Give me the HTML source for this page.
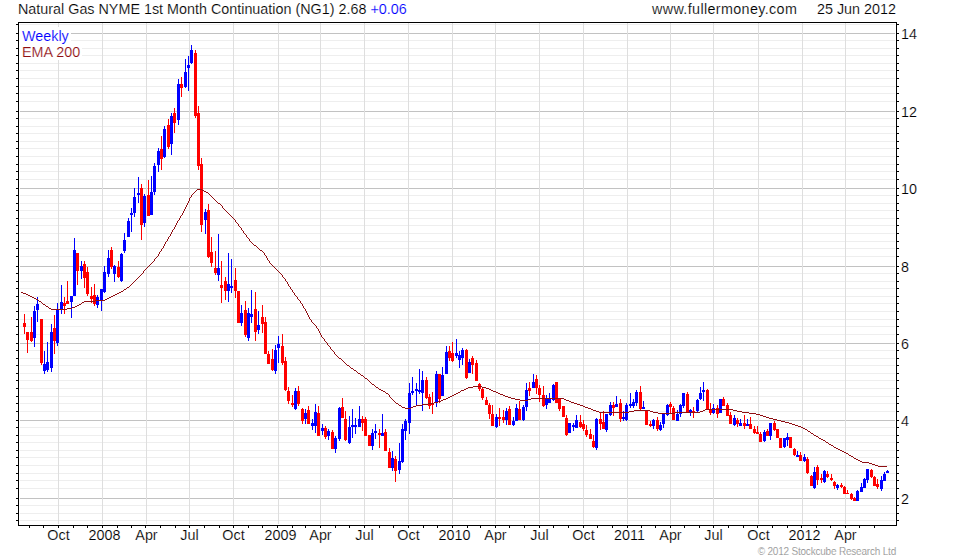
<!DOCTYPE html>
<html><head><meta charset="utf-8"><title>Natural Gas NYME 1st Month Continuation (NG1)</title>
<style>
html,body{margin:0;padding:0;background:#fff}
body{width:980px;height:560px;position:relative;overflow:hidden;font-family:"Liberation Sans",Arial,sans-serif;font-size:14.35px;color:#000}
div{position:absolute;white-space:nowrap;line-height:16px;-webkit-text-stroke:0.16px #fff}
.yl{left:901px}
.xl{width:61px;text-align:center;top:527px}
</style></head><body>
<svg width="980" height="560" viewBox="0 0 980 560" style="position:absolute;left:0;top:0" shape-rendering="crispEdges">
<rect x="20" y="24" width="875" height="1" fill="#eeeeee"/>
<rect x="16" y="24" width="2" height="1" fill="#000"/>
<rect x="897" y="24" width="2" height="1" fill="#000"/>
<rect x="20" y="33" width="875" height="1" fill="#c2c2c2"/>
<rect x="16" y="33" width="2" height="1" fill="#000"/>
<rect x="897" y="33" width="2" height="1" fill="#000"/>
<rect x="20" y="40" width="875" height="1" fill="#eeeeee"/>
<rect x="16" y="40" width="2" height="1" fill="#000"/>
<rect x="897" y="40" width="2" height="1" fill="#000"/>
<rect x="20" y="48" width="875" height="1" fill="#eeeeee"/>
<rect x="16" y="48" width="2" height="1" fill="#000"/>
<rect x="897" y="48" width="2" height="1" fill="#000"/>
<rect x="20" y="55" width="875" height="1" fill="#eeeeee"/>
<rect x="16" y="55" width="2" height="1" fill="#000"/>
<rect x="897" y="55" width="2" height="1" fill="#000"/>
<rect x="20" y="63" width="875" height="1" fill="#eeeeee"/>
<rect x="16" y="63" width="2" height="1" fill="#000"/>
<rect x="897" y="63" width="2" height="1" fill="#000"/>
<rect x="20" y="70" width="875" height="1" fill="#eeeeee"/>
<rect x="16" y="70" width="2" height="1" fill="#000"/>
<rect x="897" y="70" width="2" height="1" fill="#000"/>
<rect x="20" y="78" width="875" height="1" fill="#eeeeee"/>
<rect x="16" y="78" width="2" height="1" fill="#000"/>
<rect x="897" y="78" width="2" height="1" fill="#000"/>
<rect x="20" y="86" width="875" height="1" fill="#eeeeee"/>
<rect x="16" y="86" width="2" height="1" fill="#000"/>
<rect x="897" y="86" width="2" height="1" fill="#000"/>
<rect x="20" y="93" width="875" height="1" fill="#eeeeee"/>
<rect x="16" y="93" width="2" height="1" fill="#000"/>
<rect x="897" y="93" width="2" height="1" fill="#000"/>
<rect x="20" y="101" width="875" height="1" fill="#eeeeee"/>
<rect x="16" y="101" width="2" height="1" fill="#000"/>
<rect x="897" y="101" width="2" height="1" fill="#000"/>
<rect x="20" y="111" width="875" height="1" fill="#c2c2c2"/>
<rect x="16" y="111" width="2" height="1" fill="#000"/>
<rect x="897" y="111" width="2" height="1" fill="#000"/>
<rect x="20" y="118" width="875" height="1" fill="#eeeeee"/>
<rect x="16" y="118" width="2" height="1" fill="#000"/>
<rect x="897" y="118" width="2" height="1" fill="#000"/>
<rect x="20" y="126" width="875" height="1" fill="#eeeeee"/>
<rect x="16" y="126" width="2" height="1" fill="#000"/>
<rect x="897" y="126" width="2" height="1" fill="#000"/>
<rect x="20" y="133" width="875" height="1" fill="#eeeeee"/>
<rect x="16" y="133" width="2" height="1" fill="#000"/>
<rect x="897" y="133" width="2" height="1" fill="#000"/>
<rect x="20" y="141" width="875" height="1" fill="#eeeeee"/>
<rect x="16" y="141" width="2" height="1" fill="#000"/>
<rect x="897" y="141" width="2" height="1" fill="#000"/>
<rect x="20" y="148" width="875" height="1" fill="#eeeeee"/>
<rect x="16" y="148" width="2" height="1" fill="#000"/>
<rect x="897" y="148" width="2" height="1" fill="#000"/>
<rect x="20" y="156" width="875" height="1" fill="#eeeeee"/>
<rect x="16" y="156" width="2" height="1" fill="#000"/>
<rect x="897" y="156" width="2" height="1" fill="#000"/>
<rect x="20" y="164" width="875" height="1" fill="#eeeeee"/>
<rect x="16" y="164" width="2" height="1" fill="#000"/>
<rect x="897" y="164" width="2" height="1" fill="#000"/>
<rect x="20" y="171" width="875" height="1" fill="#eeeeee"/>
<rect x="16" y="171" width="2" height="1" fill="#000"/>
<rect x="897" y="171" width="2" height="1" fill="#000"/>
<rect x="20" y="179" width="875" height="1" fill="#eeeeee"/>
<rect x="16" y="179" width="2" height="1" fill="#000"/>
<rect x="897" y="179" width="2" height="1" fill="#000"/>
<rect x="20" y="188" width="875" height="1" fill="#c2c2c2"/>
<rect x="16" y="188" width="2" height="1" fill="#000"/>
<rect x="897" y="188" width="2" height="1" fill="#000"/>
<rect x="20" y="195" width="875" height="1" fill="#eeeeee"/>
<rect x="16" y="195" width="2" height="1" fill="#000"/>
<rect x="897" y="195" width="2" height="1" fill="#000"/>
<rect x="20" y="203" width="875" height="1" fill="#eeeeee"/>
<rect x="16" y="203" width="2" height="1" fill="#000"/>
<rect x="897" y="203" width="2" height="1" fill="#000"/>
<rect x="20" y="210" width="875" height="1" fill="#eeeeee"/>
<rect x="16" y="210" width="2" height="1" fill="#000"/>
<rect x="897" y="210" width="2" height="1" fill="#000"/>
<rect x="20" y="218" width="875" height="1" fill="#eeeeee"/>
<rect x="16" y="218" width="2" height="1" fill="#000"/>
<rect x="897" y="218" width="2" height="1" fill="#000"/>
<rect x="20" y="225" width="875" height="1" fill="#eeeeee"/>
<rect x="16" y="225" width="2" height="1" fill="#000"/>
<rect x="897" y="225" width="2" height="1" fill="#000"/>
<rect x="20" y="233" width="875" height="1" fill="#eeeeee"/>
<rect x="16" y="233" width="2" height="1" fill="#000"/>
<rect x="897" y="233" width="2" height="1" fill="#000"/>
<rect x="20" y="241" width="875" height="1" fill="#eeeeee"/>
<rect x="16" y="241" width="2" height="1" fill="#000"/>
<rect x="897" y="241" width="2" height="1" fill="#000"/>
<rect x="20" y="248" width="875" height="1" fill="#eeeeee"/>
<rect x="16" y="248" width="2" height="1" fill="#000"/>
<rect x="897" y="248" width="2" height="1" fill="#000"/>
<rect x="20" y="256" width="875" height="1" fill="#eeeeee"/>
<rect x="16" y="256" width="2" height="1" fill="#000"/>
<rect x="897" y="256" width="2" height="1" fill="#000"/>
<rect x="20" y="266" width="875" height="1" fill="#c2c2c2"/>
<rect x="16" y="266" width="2" height="1" fill="#000"/>
<rect x="897" y="266" width="2" height="1" fill="#000"/>
<rect x="20" y="273" width="875" height="1" fill="#eeeeee"/>
<rect x="16" y="273" width="2" height="1" fill="#000"/>
<rect x="897" y="273" width="2" height="1" fill="#000"/>
<rect x="20" y="281" width="875" height="1" fill="#eeeeee"/>
<rect x="16" y="281" width="2" height="1" fill="#000"/>
<rect x="897" y="281" width="2" height="1" fill="#000"/>
<rect x="20" y="288" width="875" height="1" fill="#eeeeee"/>
<rect x="16" y="288" width="2" height="1" fill="#000"/>
<rect x="897" y="288" width="2" height="1" fill="#000"/>
<rect x="20" y="296" width="875" height="1" fill="#eeeeee"/>
<rect x="16" y="296" width="2" height="1" fill="#000"/>
<rect x="897" y="296" width="2" height="1" fill="#000"/>
<rect x="20" y="303" width="875" height="1" fill="#eeeeee"/>
<rect x="16" y="303" width="2" height="1" fill="#000"/>
<rect x="897" y="303" width="2" height="1" fill="#000"/>
<rect x="20" y="311" width="875" height="1" fill="#eeeeee"/>
<rect x="16" y="311" width="2" height="1" fill="#000"/>
<rect x="897" y="311" width="2" height="1" fill="#000"/>
<rect x="20" y="319" width="875" height="1" fill="#eeeeee"/>
<rect x="16" y="319" width="2" height="1" fill="#000"/>
<rect x="897" y="319" width="2" height="1" fill="#000"/>
<rect x="20" y="326" width="875" height="1" fill="#eeeeee"/>
<rect x="16" y="326" width="2" height="1" fill="#000"/>
<rect x="897" y="326" width="2" height="1" fill="#000"/>
<rect x="20" y="334" width="875" height="1" fill="#eeeeee"/>
<rect x="16" y="334" width="2" height="1" fill="#000"/>
<rect x="897" y="334" width="2" height="1" fill="#000"/>
<rect x="20" y="343" width="875" height="1" fill="#c2c2c2"/>
<rect x="16" y="343" width="2" height="1" fill="#000"/>
<rect x="897" y="343" width="2" height="1" fill="#000"/>
<rect x="20" y="350" width="875" height="1" fill="#eeeeee"/>
<rect x="16" y="350" width="2" height="1" fill="#000"/>
<rect x="897" y="350" width="2" height="1" fill="#000"/>
<rect x="20" y="358" width="875" height="1" fill="#eeeeee"/>
<rect x="16" y="358" width="2" height="1" fill="#000"/>
<rect x="897" y="358" width="2" height="1" fill="#000"/>
<rect x="20" y="365" width="875" height="1" fill="#eeeeee"/>
<rect x="16" y="365" width="2" height="1" fill="#000"/>
<rect x="897" y="365" width="2" height="1" fill="#000"/>
<rect x="20" y="373" width="875" height="1" fill="#eeeeee"/>
<rect x="16" y="373" width="2" height="1" fill="#000"/>
<rect x="897" y="373" width="2" height="1" fill="#000"/>
<rect x="20" y="380" width="875" height="1" fill="#eeeeee"/>
<rect x="16" y="380" width="2" height="1" fill="#000"/>
<rect x="897" y="380" width="2" height="1" fill="#000"/>
<rect x="20" y="388" width="875" height="1" fill="#eeeeee"/>
<rect x="16" y="388" width="2" height="1" fill="#000"/>
<rect x="897" y="388" width="2" height="1" fill="#000"/>
<rect x="20" y="396" width="875" height="1" fill="#eeeeee"/>
<rect x="16" y="396" width="2" height="1" fill="#000"/>
<rect x="897" y="396" width="2" height="1" fill="#000"/>
<rect x="20" y="403" width="875" height="1" fill="#eeeeee"/>
<rect x="16" y="403" width="2" height="1" fill="#000"/>
<rect x="897" y="403" width="2" height="1" fill="#000"/>
<rect x="20" y="411" width="875" height="1" fill="#eeeeee"/>
<rect x="16" y="411" width="2" height="1" fill="#000"/>
<rect x="897" y="411" width="2" height="1" fill="#000"/>
<rect x="20" y="420" width="875" height="1" fill="#c2c2c2"/>
<rect x="16" y="420" width="2" height="1" fill="#000"/>
<rect x="897" y="420" width="2" height="1" fill="#000"/>
<rect x="20" y="427" width="875" height="1" fill="#eeeeee"/>
<rect x="16" y="427" width="2" height="1" fill="#000"/>
<rect x="897" y="427" width="2" height="1" fill="#000"/>
<rect x="20" y="435" width="875" height="1" fill="#eeeeee"/>
<rect x="16" y="435" width="2" height="1" fill="#000"/>
<rect x="897" y="435" width="2" height="1" fill="#000"/>
<rect x="20" y="442" width="875" height="1" fill="#eeeeee"/>
<rect x="16" y="442" width="2" height="1" fill="#000"/>
<rect x="897" y="442" width="2" height="1" fill="#000"/>
<rect x="20" y="450" width="875" height="1" fill="#eeeeee"/>
<rect x="16" y="450" width="2" height="1" fill="#000"/>
<rect x="897" y="450" width="2" height="1" fill="#000"/>
<rect x="20" y="457" width="875" height="1" fill="#eeeeee"/>
<rect x="16" y="457" width="2" height="1" fill="#000"/>
<rect x="897" y="457" width="2" height="1" fill="#000"/>
<rect x="20" y="465" width="875" height="1" fill="#eeeeee"/>
<rect x="16" y="465" width="2" height="1" fill="#000"/>
<rect x="897" y="465" width="2" height="1" fill="#000"/>
<rect x="20" y="473" width="875" height="1" fill="#eeeeee"/>
<rect x="16" y="473" width="2" height="1" fill="#000"/>
<rect x="897" y="473" width="2" height="1" fill="#000"/>
<rect x="20" y="480" width="875" height="1" fill="#eeeeee"/>
<rect x="16" y="480" width="2" height="1" fill="#000"/>
<rect x="897" y="480" width="2" height="1" fill="#000"/>
<rect x="20" y="488" width="875" height="1" fill="#eeeeee"/>
<rect x="16" y="488" width="2" height="1" fill="#000"/>
<rect x="897" y="488" width="2" height="1" fill="#000"/>
<rect x="20" y="498" width="875" height="1" fill="#c2c2c2"/>
<rect x="16" y="498" width="2" height="1" fill="#000"/>
<rect x="897" y="498" width="2" height="1" fill="#000"/>
<rect x="20" y="505" width="875" height="1" fill="#eeeeee"/>
<rect x="16" y="505" width="2" height="1" fill="#000"/>
<rect x="897" y="505" width="2" height="1" fill="#000"/>
<rect x="20" y="513" width="875" height="1" fill="#eeeeee"/>
<rect x="16" y="513" width="2" height="1" fill="#000"/>
<rect x="897" y="513" width="2" height="1" fill="#000"/>
<rect x="20" y="520" width="875" height="1" fill="#eeeeee"/>
<rect x="16" y="520" width="2" height="1" fill="#000"/>
<rect x="897" y="520" width="2" height="1" fill="#000"/>
<rect x="58" y="23" width="1" height="501" fill="#dedede"/>
<rect x="102" y="23" width="1" height="501" fill="#dedede"/>
<rect x="146" y="23" width="1" height="501" fill="#dedede"/>
<rect x="189" y="23" width="1" height="501" fill="#dedede"/>
<rect x="233" y="23" width="1" height="501" fill="#dedede"/>
<rect x="278" y="23" width="1" height="501" fill="#dedede"/>
<rect x="320" y="23" width="1" height="501" fill="#dedede"/>
<rect x="364" y="23" width="1" height="501" fill="#dedede"/>
<rect x="408" y="23" width="1" height="501" fill="#dedede"/>
<rect x="452" y="23" width="1" height="501" fill="#dedede"/>
<rect x="495" y="23" width="1" height="501" fill="#dedede"/>
<rect x="539" y="23" width="1" height="501" fill="#dedede"/>
<rect x="583" y="23" width="1" height="501" fill="#dedede"/>
<rect x="627" y="23" width="1" height="501" fill="#dedede"/>
<rect x="670" y="23" width="1" height="501" fill="#dedede"/>
<rect x="713" y="23" width="1" height="501" fill="#dedede"/>
<rect x="758" y="23" width="1" height="501" fill="#dedede"/>
<rect x="802" y="23" width="1" height="501" fill="#dedede"/>
<rect x="845" y="23" width="1" height="501" fill="#dedede"/>
<rect x="29" y="526" width="1" height="2" fill="#000"/>
<rect x="43" y="526" width="1" height="2" fill="#000"/>
<rect x="58" y="526" width="1" height="2" fill="#000"/>
<rect x="73" y="526" width="1" height="2" fill="#000"/>
<rect x="87" y="526" width="1" height="2" fill="#000"/>
<rect x="102" y="526" width="1" height="2" fill="#000"/>
<rect x="117" y="526" width="1" height="2" fill="#000"/>
<rect x="131" y="526" width="1" height="2" fill="#000"/>
<rect x="145" y="526" width="1" height="2" fill="#000"/>
<rect x="160" y="526" width="1" height="2" fill="#000"/>
<rect x="175" y="526" width="1" height="2" fill="#000"/>
<rect x="189" y="526" width="1" height="2" fill="#000"/>
<rect x="204" y="526" width="1" height="2" fill="#000"/>
<rect x="219" y="526" width="1" height="2" fill="#000"/>
<rect x="233" y="526" width="1" height="2" fill="#000"/>
<rect x="248" y="526" width="1" height="2" fill="#000"/>
<rect x="262" y="526" width="1" height="2" fill="#000"/>
<rect x="277" y="526" width="1" height="2" fill="#000"/>
<rect x="292" y="526" width="1" height="2" fill="#000"/>
<rect x="305" y="526" width="1" height="2" fill="#000"/>
<rect x="320" y="526" width="1" height="2" fill="#000"/>
<rect x="335" y="526" width="1" height="2" fill="#000"/>
<rect x="349" y="526" width="1" height="2" fill="#000"/>
<rect x="364" y="526" width="1" height="2" fill="#000"/>
<rect x="379" y="526" width="1" height="2" fill="#000"/>
<rect x="393" y="526" width="1" height="2" fill="#000"/>
<rect x="408" y="526" width="1" height="2" fill="#000"/>
<rect x="423" y="526" width="1" height="2" fill="#000"/>
<rect x="437" y="526" width="1" height="2" fill="#000"/>
<rect x="452" y="526" width="1" height="2" fill="#000"/>
<rect x="467" y="526" width="1" height="2" fill="#000"/>
<rect x="480" y="526" width="1" height="2" fill="#000"/>
<rect x="495" y="526" width="1" height="2" fill="#000"/>
<rect x="509" y="526" width="1" height="2" fill="#000"/>
<rect x="524" y="526" width="1" height="2" fill="#000"/>
<rect x="539" y="526" width="1" height="2" fill="#000"/>
<rect x="553" y="526" width="1" height="2" fill="#000"/>
<rect x="568" y="526" width="1" height="2" fill="#000"/>
<rect x="583" y="526" width="1" height="2" fill="#000"/>
<rect x="597" y="526" width="1" height="2" fill="#000"/>
<rect x="612" y="526" width="1" height="2" fill="#000"/>
<rect x="627" y="526" width="1" height="2" fill="#000"/>
<rect x="641" y="526" width="1" height="2" fill="#000"/>
<rect x="655" y="526" width="1" height="2" fill="#000"/>
<rect x="670" y="526" width="1" height="2" fill="#000"/>
<rect x="684" y="526" width="1" height="2" fill="#000"/>
<rect x="699" y="526" width="1" height="2" fill="#000"/>
<rect x="713" y="526" width="1" height="2" fill="#000"/>
<rect x="728" y="526" width="1" height="2" fill="#000"/>
<rect x="743" y="526" width="1" height="2" fill="#000"/>
<rect x="757" y="526" width="1" height="2" fill="#000"/>
<rect x="772" y="526" width="1" height="2" fill="#000"/>
<rect x="787" y="526" width="1" height="2" fill="#000"/>
<rect x="801" y="526" width="1" height="2" fill="#000"/>
<rect x="816" y="526" width="1" height="2" fill="#000"/>
<rect x="830" y="526" width="1" height="2" fill="#000"/>
<rect x="845" y="526" width="1" height="2" fill="#000"/>
<rect x="859" y="526" width="1" height="2" fill="#000"/>
<rect x="874" y="526" width="1" height="2" fill="#000"/>
<rect x="19" y="27" width="52" height="17" fill="#fff"/>
<rect x="19" y="44" width="63" height="16" fill="#fff"/>
<rect x="18" y="22" width="1" height="504" fill="#000"/>
<rect x="896" y="22" width="1" height="504" fill="#000"/>
<rect x="18" y="22" width="879" height="1" fill="#000"/>
<rect x="18" y="525" width="879" height="1" fill="#000"/>
<path d="M34 306h1v41h-1zM33 311h3v27h-3zM37 297h1v25h-1zM36 304h3v6h-3zM44 351h1v23h-1zM43 364h3v7h-3zM47 342h1v30h-1zM46 362h3v8h-3zM51 324h1v48h-1zM50 332h3v36h-3zM57 303h1v43h-1zM56 310h3v33h-3zM61 285h1v29h-1zM60 302h3v8h-3zM71 296h1v22h-1zM70 296h3v6h-3zM74 238h1v58h-1zM73 250h3v46h-3zM81 261h1v18h-1zM80 266h3v5h-3zM97 295h1v13h-1zM96 297h3v8h-3zM101 289h1v22h-1zM100 289h3v12h-3zM104 266h1v27h-1zM103 272h3v20h-3zM108 250h1v27h-1zM107 258h3v16h-3zM114 265h1v17h-1zM113 266h3v8h-3zM121 253h1v29h-1zM120 254h3v27h-3zM124 233h1v20h-1zM123 240h3v11h-3zM128 218h1v19h-1zM127 221h3v16h-3zM131 208h1v24h-1zM130 213h3v2h-3zM134 188h1v29h-1zM133 197h3v16h-3zM138 177h1v26h-1zM137 193h3v2h-3zM144 194h1v33h-1zM143 196h3v27h-3zM151 176h1v39h-1zM150 192h3v23h-3zM154 163h1v32h-1zM153 166h3v26h-3zM158 148h1v24h-1zM157 151h3v14h-3zM164 126h1v32h-1zM163 129h3v28h-3zM171 113h1v42h-1zM170 116h3v28h-3zM178 79h1v46h-1zM177 84h3v36h-3zM185 59h1v29h-1zM184 72h3v15h-3zM188 56h1v35h-1zM187 65h3v3h-3zM191 45h1v19h-1zM190 50h3v13h-3zM205 209h1v25h-1zM204 212h3v8h-3zM218 234h1v47h-1zM217 268h3v7h-3zM228 253h1v49h-1zM227 284h3v7h-3zM231 259h1v34h-1zM230 286h3v2h-3zM241 305h1v21h-1zM240 313h3v10h-3zM248 308h1v33h-1zM247 313h3v25h-3zM251 290h1v33h-1zM250 314h3v3h-3zM258 311h1v23h-1zM257 325h3v5h-3zM275 345h1v29h-1zM274 350h3v21h-3zM278 336h1v27h-1zM277 344h3v4h-3zM295 388h1v22h-1zM294 391h3v18h-3zM305 409h1v15h-1zM304 413h3v6h-3zM312 419h1v11h-1zM311 423h3v3h-3zM315 404h1v29h-1zM314 412h3v14h-3zM322 424h1v11h-1zM321 428h3v3h-3zM328 429h1v11h-1zM327 431h3v5h-3zM335 436h1v17h-1zM334 438h3v11h-3zM339 407h1v34h-1zM338 408h3v31h-3zM349 416h1v28h-1zM348 427h3v16h-3zM352 409h1v29h-1zM351 425h3v2h-3zM355 418h1v16h-1zM354 425h3v2h-3zM359 406h1v21h-1zM358 419h3v8h-3zM372 429h1v21h-1zM371 433h3v13h-3zM375 424h1v15h-1zM374 431h3v2h-3zM382 414h1v22h-1zM381 433h3v3h-3zM392 451h1v20h-1zM391 458h3v10h-3zM399 443h1v31h-1zM398 461h3v9h-3zM402 424h1v39h-1zM401 429h3v33h-3zM405 419h1v21h-1zM404 421h3v10h-3zM409 383h1v51h-1zM408 393h3v30h-3zM412 377h1v18h-1zM411 391h3v2h-3zM416 383h1v23h-1zM415 389h3v2h-3zM419 369h1v25h-1zM418 390h3v2h-3zM422 371h1v40h-1zM421 380h3v13h-3zM436 371h1v36h-1zM435 374h3v28h-3zM442 367h1v29h-1zM441 375h3v21h-3zM446 346h1v28h-1zM445 352h3v22h-3zM456 339h1v19h-1zM455 353h3v3h-3zM459 351h1v17h-1zM458 355h3v5h-3zM462 348h1v17h-1zM461 350h3v8h-3zM469 359h1v14h-1zM468 362h3v11h-3zM496 414h1v14h-1zM495 417h3v10h-3zM506 408h1v17h-1zM505 411h3v9h-3zM513 417h1v9h-1zM512 421h3v4h-3zM516 404h1v17h-1zM515 408h3v13h-3zM523 405h1v16h-1zM522 407h3v13h-3zM526 383h1v28h-1zM525 390h3v17h-3zM533 374h1v14h-1zM532 382h3v6h-3zM546 395h1v14h-1zM545 399h3v6h-3zM549 393h1v10h-1zM548 399h3v4h-3zM553 384h1v17h-1zM552 385h3v15h-3zM569 423h1v10h-1zM568 423h3v10h-3zM573 423h1v8h-1zM572 425h3v2h-3zM576 415h1v13h-1zM575 420h3v8h-3zM596 418h1v32h-1zM595 419h3v29h-3zM606 414h1v18h-1zM605 414h3v16h-3zM610 402h1v14h-1zM609 405h3v10h-3zM616 396h1v11h-1zM615 404h3v3h-3zM623 411h1v10h-1zM622 417h3v2h-3zM626 403h1v18h-1zM625 405h3v15h-3zM630 393h1v15h-1zM629 404h3v2h-3zM633 399h1v9h-1zM632 402h3v4h-3zM636 390h1v16h-1zM635 392h3v11h-3zM643 401h1v8h-1zM642 407h3v2h-3zM653 419h1v10h-1zM652 420h3v6h-3zM660 422h1v9h-1zM659 425h3v5h-3zM663 414h1v14h-1zM662 414h3v10h-3zM667 404h1v12h-1zM666 405h3v10h-3zM677 410h1v11h-1zM676 414h3v7h-3zM680 404h1v13h-1zM679 405h3v9h-3zM683 393h1v15h-1zM682 393h3v13h-3zM690 409h1v7h-1zM689 410h3v2h-3zM697 399h1v13h-1zM696 400h3v11h-3zM700 387h1v13h-1zM699 393h3v6h-3zM703 382h1v19h-1zM702 390h3v2h-3zM713 404h1v10h-1zM712 408h3v5h-3zM720 399h1v14h-1zM719 399h3v14h-3zM734 415h1v11h-1zM733 418h3v7h-3zM740 419h1v7h-1zM739 423h3v3h-3zM747 419h1v7h-1zM746 424h3v2h-3zM764 430h1v12h-1zM763 432h3v9h-3zM770 423h1v17h-1zM769 423h3v13h-3zM784 438h1v10h-1zM783 438h3v9h-3zM787 433h1v13h-1zM786 437h3v3h-3zM797 451h1v6h-1zM796 455h3v2h-3zM804 454h1v8h-1zM803 457h3v4h-3zM814 467h1v22h-1zM813 472h3v16h-3zM824 470h1v13h-1zM823 471h3v11h-3zM837 484h1v6h-1zM836 485h3v3h-3zM857 490h1v11h-1zM856 491h3v10h-3zM861 483h1v9h-1zM860 487h3v5h-3zM864 478h1v10h-1zM863 479h3v9h-3zM867 469h1v14h-1zM866 469h3v11h-3zM881 476h1v15h-1zM880 480h3v9h-3zM884 472h1v9h-1zM883 474h3v7h-3zM887 470h1v3h-1zM886 471h3v2h-3z" fill="#0000ff"/>
<path d="M24 314h1v20h-1zM23 323h3v4h-3zM27 332h1v21h-1zM26 332h3v8h-3zM31 317h1v25h-1zM30 332h3v9h-3zM41 319h1v46h-1zM40 319h3v44h-3zM54 315h1v39h-1zM53 328h3v13h-3zM64 297h1v17h-1zM63 303h3v3h-3zM67 281h1v23h-1zM66 301h3v3h-3zM77 253h1v32h-1zM76 253h3v18h-3zM84 261h1v27h-1zM83 264h3v14h-3zM87 267h1v29h-1zM86 272h3v22h-3zM91 287h1v16h-1zM90 296h3v3h-3zM94 284h1v22h-1zM93 295h3v9h-3zM111 247h1v22h-1zM110 250h3v17h-3zM118 261h1v17h-1zM117 267h3v10h-3zM141 184h1v56h-1zM140 188h3v37h-3zM148 180h1v36h-1zM147 195h3v21h-3zM161 136h1v34h-1zM160 149h3v10h-3zM168 119h1v30h-1zM167 125h3v22h-3zM174 108h1v25h-1zM173 113h3v10h-3zM181 77h1v20h-1zM180 84h3v4h-3zM195 50h1v68h-1zM194 53h3v63h-3zM198 106h1v64h-1zM197 113h3v53h-3zM201 158h1v74h-1zM200 164h3v61h-3zM208 204h1v54h-1zM207 210h3v47h-3zM211 237h1v30h-1zM210 252h3v11h-3zM215 251h1v24h-1zM214 268h3v5h-3zM221 261h1v42h-1zM220 285h3v3h-3zM225 277h1v23h-1zM224 281h3v10h-3zM235 268h1v30h-1zM234 280h3v11h-3zM238 291h1v32h-1zM237 291h3v32h-3zM245 301h1v36h-1zM244 310h3v25h-3zM255 292h1v49h-1zM254 309h3v23h-3zM262 305h1v28h-1zM261 317h3v7h-3zM265 317h1v37h-1zM264 322h3v32h-3zM268 351h1v13h-1zM267 354h3v10h-3zM272 349h1v22h-1zM271 359h3v11h-3zM282 334h1v31h-1zM281 346h3v17h-3zM285 357h1v34h-1zM284 361h3v29h-3zM288 387h1v17h-1zM287 391h3v10h-3zM292 395h1v12h-1zM291 403h3v2h-3zM298 386h1v20h-1zM297 391h3v13h-3zM302 408h1v16h-1zM301 409h3v12h-3zM308 406h1v18h-1zM307 410h3v14h-3zM318 406h1v30h-1zM317 413h3v23h-3zM325 426h1v13h-1zM324 428h3v9h-3zM332 430h1v19h-1zM331 432h3v17h-3zM342 398h1v20h-1zM341 407h3v11h-3zM345 411h1v30h-1zM344 419h3v21h-3zM362 416h1v15h-1zM361 419h3v4h-3zM365 417h1v19h-1zM364 419h3v17h-3zM369 435h1v11h-1zM368 435h3v11h-3zM379 429h1v19h-1zM378 433h3v2h-3zM385 429h1v22h-1zM384 432h3v19h-3zM389 448h1v20h-1zM388 452h3v16h-3zM395 456h1v26h-1zM394 459h3v12h-3zM426 377h1v22h-1zM425 380h3v18h-3zM429 394h1v15h-1zM428 397h3v9h-3zM432 392h1v22h-1zM431 403h3v2h-3zM439 374h1v29h-1zM438 374h3v25h-3zM449 346h1v15h-1zM448 351h3v7h-3zM452 342h1v20h-1zM451 353h3v8h-3zM466 349h1v30h-1zM465 350h3v28h-3zM472 356h1v18h-1zM471 358h3v7h-3zM476 360h1v21h-1zM475 363h3v18h-3zM479 383h1v8h-1zM478 384h3v5h-3zM482 387h1v13h-1zM481 389h3v9h-3zM486 397h1v8h-1zM485 400h3v5h-3zM489 403h1v16h-1zM488 405h3v9h-3zM492 405h1v21h-1zM491 414h3v12h-3zM499 408h1v18h-1zM498 417h3v2h-3zM503 410h1v13h-1zM502 417h3v3h-3zM509 406h1v19h-1zM508 409h3v16h-3zM519 401h1v19h-1zM518 409h3v11h-3zM529 382h1v14h-1zM528 388h3v3h-3zM536 375h1v19h-1zM535 379h3v9h-3zM539 385h1v17h-1zM538 388h3v7h-3zM543 386h1v21h-1zM542 395h3v11h-3zM556 382h1v21h-1zM555 382h3v21h-3zM559 399h1v12h-1zM558 399h3v10h-3zM563 406h1v11h-1zM562 406h3v11h-3zM566 415h1v21h-1zM565 418h3v17h-3zM580 415h1v13h-1zM579 422h3v5h-3zM583 420h1v11h-1zM582 424h3v5h-3zM586 425h1v12h-1zM585 430h3v5h-3zM590 429h1v10h-1zM589 434h3v5h-3zM593 435h1v13h-1zM592 441h3v6h-3zM600 413h1v17h-1zM599 419h3v5h-3zM603 411h1v18h-1zM602 422h3v7h-3zM613 402h1v14h-1zM612 405h3v3h-3zM620 399h1v23h-1zM619 403h3v16h-3zM640 386h1v24h-1zM639 392h3v17h-3zM646 411h1v14h-1zM645 411h3v14h-3zM650 421h1v6h-1zM649 424h3v2h-3zM657 417h1v14h-1zM656 420h3v9h-3zM670 402h1v11h-1zM669 404h3v3h-3zM673 406h1v14h-1zM672 408h3v12h-3zM687 392h1v20h-1zM686 394h3v18h-3zM693 407h1v11h-1zM692 411h3v2h-3zM707 389h1v21h-1zM706 390h3v20h-3zM710 403h1v12h-1zM709 410h3v3h-3zM717 405h1v13h-1zM716 408h3v6h-3zM723 397h1v9h-1zM722 399h3v7h-3zM727 403h1v13h-1zM726 405h3v11h-3zM730 412h1v12h-1zM729 415h3v9h-3zM737 418h1v9h-1zM736 420h3v4h-3zM744 415h1v14h-1zM743 423h3v3h-3zM750 417h1v12h-1zM749 424h3v5h-3zM754 426h1v8h-1zM753 429h3v4h-3zM757 426h1v8h-1zM756 432h3v2h-3zM760 432h1v10h-1zM759 434h3v8h-3zM767 429h1v7h-1zM766 431h3v5h-3zM774 421h1v10h-1zM773 423h3v7h-3zM777 429h1v9h-1zM776 429h3v9h-3zM780 438h1v10h-1zM779 438h3v10h-3zM790 437h1v11h-1zM789 437h3v11h-3zM794 448h1v8h-1zM793 449h3v6h-3zM800 452h1v9h-1zM799 455h3v6h-3zM807 457h1v17h-1zM806 459h3v14h-3zM811 475h1v11h-1zM810 476h3v10h-3zM817 465h1v20h-1zM816 467h3v13h-3zM821 474h1v9h-1zM820 478h3v2h-3zM827 471h1v7h-1zM826 474h3v3h-3zM831 474h1v7h-1zM830 478h3v2h-3zM834 481h1v8h-1zM833 482h3v4h-3zM841 483h1v5h-1zM840 485h3v2h-3zM844 486h1v8h-1zM843 487h3v7h-3zM847 490h1v4h-1zM846 493h3v1h-3zM851 493h1v7h-1zM850 494h3v5h-3zM854 497h1v4h-1zM853 498h3v3h-3zM871 469h1v9h-1zM870 470h3v7h-3zM874 476h1v10h-1zM873 477h3v9h-3zM877 479h1v10h-1zM876 484h3v3h-3z" fill="#ff0000"/>
<path d="M21 292h2v1h-2zM119 292h2v1h-2zM293 292h1v1h-1zM23 293h3v1h-3zM117 293h2v1h-2zM294 293h1v1h-1zM26 294h2v1h-2zM115 294h2v1h-2zM294 294h1v1h-1zM28 295h2v1h-2zM113 295h2v1h-2zM295 295h1v1h-1zM30 296h2v1h-2zM111 296h2v1h-2zM296 296h1v1h-1zM32 297h2v1h-2zM109 297h2v1h-2zM297 297h1v1h-1zM34 298h2v1h-2zM107 298h2v1h-2zM297 298h1v1h-1zM36 299h2v1h-2zM105 299h2v1h-2zM298 299h1v1h-1zM38 300h1v1h-1zM95 300h10v1h-10zM299 300h1v1h-1zM39 301h2v1h-2zM84 301h11v1h-11zM300 301h1v1h-1zM41 302h1v1h-1zM82 302h2v1h-2zM300 302h1v1h-1zM42 303h1v1h-1zM81 303h1v1h-1zM301 303h1v1h-1zM43 304h2v1h-2zM79 304h2v1h-2zM302 304h1v1h-1zM45 305h1v1h-1zM77 305h2v1h-2zM302 305h1v1h-1zM46 306h2v1h-2zM75 306h2v1h-2zM303 306h1v1h-1zM48 307h1v1h-1zM72 307h3v1h-3zM303 307h1v1h-1zM49 308h2v1h-2zM67 308h5v1h-5zM304 308h1v1h-1zM51 309h16v1h-16zM305 309h1v1h-1zM121 291h2v1h-2zM292 291h1v1h-1zM123 290h1v1h-1zM292 290h1v1h-1zM124 289h2v1h-2zM291 289h1v1h-1zM126 288h1v1h-1zM290 288h1v1h-1zM127 287h2v1h-2zM290 287h1v1h-1zM129 286h1v1h-1zM289 286h1v1h-1zM130 285h1v1h-1zM288 285h1v1h-1zM131 284h1v1h-1zM288 284h1v1h-1zM132 283h1v1h-1zM287 283h1v1h-1zM133 282h1v1h-1zM287 282h1v1h-1zM134 281h1v1h-1zM286 281h1v1h-1zM135 280h1v1h-1zM285 280h1v1h-1zM136 279h1v1h-1zM285 279h1v1h-1zM137 278h1v1h-1zM284 278h1v1h-1zM138 277h1v1h-1zM283 277h1v1h-1zM139 276h1v1h-1zM282 276h1v1h-1zM140 275h1v1h-1zM282 275h1v1h-1zM141 274h1v1h-1zM281 274h1v1h-1zM142 273h1v1h-1zM280 273h1v1h-1zM143 271h1v1h-1zM278 271h1v1h-1zM143 272h1v1h-1zM279 272h1v1h-1zM144 270h1v1h-1zM277 270h1v1h-1zM145 269h1v1h-1zM276 269h1v1h-1zM146 268h1v1h-1zM275 268h1v1h-1zM147 267h1v1h-1zM274 267h1v1h-1zM148 266h1v1h-1zM273 266h1v1h-1zM149 265h1v1h-1zM272 265h1v1h-1zM150 264h1v1h-1zM271 264h1v1h-1zM151 263h1v1h-1zM270 263h1v1h-1zM152 262h1v1h-1zM269 262h1v1h-1zM153 261h1v1h-1zM269 261h1v1h-1zM154 259h1v1h-1zM267 259h1v1h-1zM154 260h1v1h-1zM268 260h1v1h-1zM155 258h1v1h-1zM267 258h1v1h-1zM156 257h1v1h-1zM266 257h1v1h-1zM157 256h1v1h-1zM266 256h1v1h-1zM158 254h1v1h-1zM264 254h1v1h-1zM158 255h1v1h-1zM265 255h1v1h-1zM159 252h1v1h-1zM263 252h1v1h-1zM159 253h1v1h-1zM264 253h1v1h-1zM160 251h1v1h-1zM262 251h1v1h-1zM161 249h1v1h-1zM259 249h1v1h-1zM161 250h1v1h-1zM260 250h2v1h-2zM162 248h1v1h-1zM258 248h1v1h-1zM163 246h1v1h-1zM256 246h1v1h-1zM163 247h1v1h-1zM257 247h1v1h-1zM164 244h1v1h-1zM253 244h1v1h-1zM164 245h1v1h-1zM254 245h2v1h-2zM165 242h1v1h-1zM251 242h1v1h-1zM165 243h1v1h-1zM252 243h1v1h-1zM166 241h1v1h-1zM250 241h1v1h-1zM167 239h1v1h-1zM249 239h1v1h-1zM167 240h1v1h-1zM249 240h1v1h-1zM168 237h1v1h-1zM247 237h1v1h-1zM168 238h1v1h-1zM248 238h1v1h-1zM169 236h1v1h-1zM246 236h1v1h-1zM170 234h1v1h-1zM245 234h1v1h-1zM170 235h1v1h-1zM246 235h1v1h-1zM171 232h1v1h-1zM243 232h1v1h-1zM171 233h1v1h-1zM244 233h1v1h-1zM172 230h1v1h-1zM242 230h1v1h-1zM172 231h1v1h-1zM243 231h1v1h-1zM173 229h1v1h-1zM241 229h1v1h-1zM174 227h1v1h-1zM240 227h1v1h-1zM174 228h1v1h-1zM241 228h1v1h-1zM175 225h1v1h-1zM238 225h1v1h-1zM175 226h1v1h-1zM239 226h1v1h-1zM176 223h1v1h-1zM237 223h1v1h-1zM176 224h1v1h-1zM238 224h1v1h-1zM177 221h1v1h-1zM235 221h1v1h-1zM177 222h1v1h-1zM236 222h1v1h-1zM178 220h1v1h-1zM235 220h1v1h-1zM179 218h1v1h-1zM233 218h1v1h-1zM179 219h1v1h-1zM234 219h1v1h-1zM180 216h1v1h-1zM231 216h1v1h-1zM180 217h1v1h-1zM232 217h1v1h-1zM181 215h1v1h-1zM230 215h1v1h-1zM182 213h1v1h-1zM228 213h1v1h-1zM182 214h1v1h-1zM229 214h1v1h-1zM183 211h1v1h-1zM226 211h1v1h-1zM183 212h1v1h-1zM227 212h1v1h-1zM184 209h1v1h-1zM224 209h1v1h-1zM184 210h1v1h-1zM225 210h1v1h-1zM185 207h1v1h-1zM222 207h1v1h-1zM185 208h1v1h-1zM223 208h1v1h-1zM186 205h1v1h-1zM221 205h1v1h-1zM186 206h1v1h-1zM222 206h1v1h-1zM187 203h1v1h-1zM218 203h2v1h-2zM187 204h1v1h-1zM220 204h1v1h-1zM188 201h1v1h-1zM216 201h1v1h-1zM188 202h1v1h-1zM217 202h1v1h-1zM189 198h1v1h-1zM213 198h1v1h-1zM189 199h1v1h-1zM214 199h1v1h-1zM189 200h1v1h-1zM215 200h1v1h-1zM190 197h1v1h-1zM212 197h1v1h-1zM191 195h1v1h-1zM210 195h1v1h-1zM191 196h1v1h-1zM211 196h1v1h-1zM192 194h1v1h-1zM209 194h1v1h-1zM193 193h1v1h-1zM208 193h1v1h-1zM194 192h1v1h-1zM206 192h2v1h-2zM195 191h1v1h-1zM204 191h2v1h-2zM196 190h1v1h-1zM202 190h2v1h-2zM197 189h5v1h-5zM305 310h1v1h-1zM306 311h1v1h-1zM306 312h1v1h-1zM307 313h1v1h-1zM307 314h1v1h-1zM308 315h1v1h-1zM308 316h1v1h-1zM309 317h1v1h-1zM309 318h1v1h-1zM310 319h1v1h-1zM311 320h1v1h-1zM311 321h1v1h-1zM312 322h1v1h-1zM313 323h1v1h-1zM314 324h1v1h-1zM315 325h1v1h-1zM316 326h1v1h-1zM316 327h1v1h-1zM317 328h1v1h-1zM318 329h1v1h-1zM318 330h1v1h-1zM319 331h1v1h-1zM319 332h1v1h-1zM320 333h1v1h-1zM320 334h1v1h-1zM321 335h1v1h-1zM321 336h1v1h-1zM322 337h1v1h-1zM323 338h1v1h-1zM324 339h1v1h-1zM324 340h1v1h-1zM325 341h1v1h-1zM326 342h1v1h-1zM327 343h1v1h-1zM327 344h1v1h-1zM328 345h1v1h-1zM329 346h1v1h-1zM330 347h1v1h-1zM330 348h1v1h-1zM331 349h1v1h-1zM332 350h1v1h-1zM333 351h1v1h-1zM334 352h1v1h-1zM334 353h1v1h-1zM335 354h1v1h-1zM336 355h1v1h-1zM337 356h1v1h-1zM338 357h1v1h-1zM339 358h2v1h-2zM341 359h1v1h-1zM342 360h1v1h-1zM343 361h1v1h-1zM344 362h1v1h-1zM345 363h1v1h-1zM346 364h1v1h-1zM347 365h2v1h-2zM349 366h1v1h-1zM350 367h1v1h-1zM351 368h2v1h-2zM353 369h1v1h-1zM354 370h2v1h-2zM356 371h1v1h-1zM357 372h1v1h-1zM358 373h2v1h-2zM360 374h1v1h-1zM361 375h2v1h-2zM363 376h1v1h-1zM364 377h1v1h-1zM365 378h2v1h-2zM367 379h1v1h-1zM368 380h1v1h-1zM369 381h1v1h-1zM370 382h1v1h-1zM371 383h1v1h-1zM372 384h2v1h-2zM374 385h1v1h-1zM375 386h1v1h-1zM473 386h9v1h-9zM376 387h2v1h-2zM468 387h5v1h-5zM482 387h4v1h-4zM378 388h1v1h-1zM466 388h2v1h-2zM486 388h3v1h-3zM379 389h2v1h-2zM464 389h2v1h-2zM489 389h2v1h-2zM381 390h2v1h-2zM461 390h3v1h-3zM491 390h2v1h-2zM383 391h2v1h-2zM460 391h1v1h-1zM493 391h3v1h-3zM385 392h1v1h-1zM458 392h2v1h-2zM496 392h2v1h-2zM386 393h2v1h-2zM456 393h2v1h-2zM498 393h2v1h-2zM388 394h1v1h-1zM454 394h2v1h-2zM500 394h3v1h-3zM389 395h1v1h-1zM452 395h2v1h-2zM503 395h2v1h-2zM389 396h1v1h-1zM450 396h2v1h-2zM505 396h3v1h-3zM390 397h1v1h-1zM448 397h2v1h-2zM508 397h3v1h-3zM391 398h1v1h-1zM446 398h2v1h-2zM511 398h4v1h-4zM531 398h33v1h-33zM392 399h1v1h-1zM443 399h3v1h-3zM515 399h5v1h-5zM528 399h3v1h-3zM564 399h2v1h-2zM393 400h1v1h-1zM441 400h2v1h-2zM520 400h8v1h-8zM566 400h3v1h-3zM394 401h1v1h-1zM438 401h3v1h-3zM569 401h2v1h-2zM395 402h1v1h-1zM434 402h4v1h-4zM571 402h3v1h-3zM396 403h2v1h-2zM428 403h6v1h-6zM574 403h3v1h-3zM398 404h1v1h-1zM422 404h6v1h-6zM577 404h3v1h-3zM399 405h2v1h-2zM416 405h6v1h-6zM580 405h3v1h-3zM401 406h1v1h-1zM413 406h3v1h-3zM583 406h2v1h-2zM402 407h3v1h-3zM411 407h2v1h-2zM585 407h3v1h-3zM405 408h6v1h-6zM588 408h3v1h-3zM591 409h2v1h-2zM705 409h28v1h-28zM593 410h3v1h-3zM634 410h16v1h-16zM703 410h2v1h-2zM733 410h4v1h-4zM596 411h3v1h-3zM629 411h5v1h-5zM650 411h3v1h-3zM700 411h3v1h-3zM737 411h5v1h-5zM599 412h30v1h-30zM653 412h5v1h-5zM675 412h25v1h-25zM742 412h7v1h-7zM658 413h17v1h-17zM749 413h7v1h-7zM756 414h4v1h-4zM760 415h3v1h-3zM763 416h3v1h-3zM766 417h3v1h-3zM769 418h4v1h-4zM773 419h4v1h-4zM777 420h4v1h-4zM781 421h4v1h-4zM785 422h4v1h-4zM789 423h3v1h-3zM792 424h3v1h-3zM795 425h3v1h-3zM798 426h3v1h-3zM801 427h2v1h-2zM803 428h2v1h-2zM805 429h2v1h-2zM807 430h1v1h-1zM808 431h2v1h-2zM810 432h1v1h-1zM811 433h2v1h-2zM813 434h1v1h-1zM814 435h2v1h-2zM816 436h2v1h-2zM818 437h1v1h-1zM819 438h2v1h-2zM821 439h2v1h-2zM823 440h2v1h-2zM825 441h1v1h-1zM826 442h2v1h-2zM828 443h1v1h-1zM829 444h2v1h-2zM831 445h2v1h-2zM833 446h1v1h-1zM834 447h2v1h-2zM836 448h2v1h-2zM838 449h2v1h-2zM840 450h2v1h-2zM842 451h2v1h-2zM844 452h2v1h-2zM846 453h2v1h-2zM848 454h1v1h-1zM849 455h2v1h-2zM851 456h2v1h-2zM853 457h1v1h-1zM854 458h2v1h-2zM856 459h2v1h-2zM858 460h2v1h-2zM860 461h2v1h-2zM862 462h7v1h-7zM869 463h3v1h-3zM872 464h3v1h-3zM875 465h3v1h-3zM878 466h9v1h-9z" fill="#8f0e12"/>
</svg>
<div style="left:18px;top:1px">Natural Gas NYME 1st Month Continuation (NG1) 2.68 <span style="color:#0000ff">+0.06</span></div>
<div style="left:652px;top:1px;letter-spacing:0.36px">www.fullermoney.com</div>
<div style="left:817px;top:1px">25 Jun 2012</div>
<div style="left:22px;top:28px;color:#0000ff">Weekly</div>
<div style="left:22px;top:44px;color:#8f0e12">EMA 200</div>
<div style="right:84px;top:544px;font-size:10px;color:#8a8a8a;letter-spacing:-0.2px">© 2012 Stockcube Research Ltd</div>
<div class="yl" style="top:26px">14</div><div class="yl" style="top:104px">12</div><div class="yl" style="top:181px">10</div><div class="yl" style="top:259px">8</div><div class="yl" style="top:336px">6</div><div class="yl" style="top:413px">4</div><div class="yl" style="top:491px">2</div><div class="xl" style="left:28px">Oct</div><div class="xl" style="left:74px">2008</div><div class="xl" style="left:116px">Apr</div><div class="xl" style="left:159px">Jul</div><div class="xl" style="left:203px">Oct</div><div class="xl" style="left:250px">2009</div><div class="xl" style="left:290px">Apr</div><div class="xl" style="left:334px">Jul</div><div class="xl" style="left:378px">Oct</div><div class="xl" style="left:424px">2010</div><div class="xl" style="left:465px">Apr</div><div class="xl" style="left:509px">Jul</div><div class="xl" style="left:553px">Oct</div><div class="xl" style="left:599px">2011</div><div class="xl" style="left:640px">Apr</div><div class="xl" style="left:683px">Jul</div><div class="xl" style="left:728px">Oct</div><div class="xl" style="left:774px">2012</div><div class="xl" style="left:815px">Apr</div>
</body></html>
